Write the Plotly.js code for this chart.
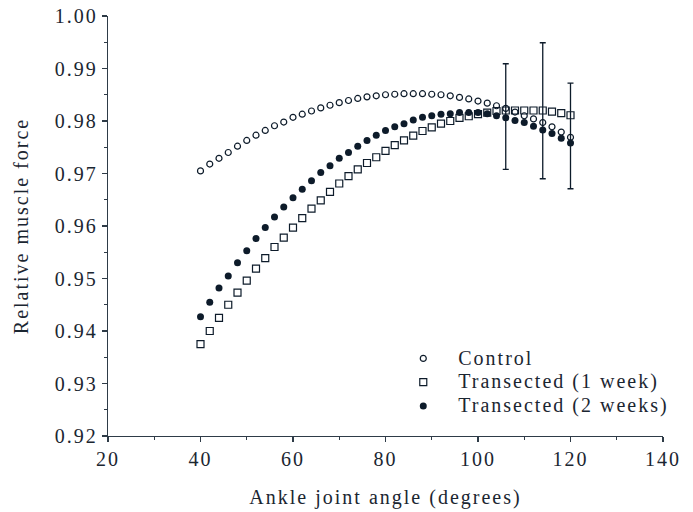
<!DOCTYPE html>
<html>
<head>
<meta charset="utf-8">
<script src="https://cdn.plot.ly/plotly-3.0.1.min.js"></script>
<style>
  html, body { margin: 0; padding: 0; background: #fff; }
  #chart { width: 693px; height: 512px; }
  text { letter-spacing: 2px; }
  .legendtext { font-size: 20px !important; }
</style>
</head>
<body>
<div id="chart"></div>
<script>
// Ankle joint angle (degrees), every 2 degrees from 40 to 120
const angles = [40,42,44,46,48,50,52,54,56,58,60,62,64,66,68,70,72,74,76,78,80,
                82,84,86,88,90,92,94,96,98,100,102,104,106,108,110,112,114,116,118,120];

const control = [0.9705,0.9718,0.9729,0.9740,0.9752,0.9763,0.9773,0.9782,0.9791,0.9798,
                 0.9807,0.9813,0.9819,0.9825,0.9830,0.9835,0.9839,0.9843,0.9846,0.9848,
                 0.9850,0.9851,0.9852,0.9852,0.9852,0.9851,0.9850,0.9848,0.9845,0.9842,
                 0.9838,0.9834,0.9829,0.9824,0.9817,0.9810,0.9804,0.9797,0.9789,0.9779,0.9769];

const transected1w = [0.9375,0.9400,0.9425,0.9450,0.9473,0.9496,0.9519,0.9539,0.9560,0.9578,
                      0.9597,0.9615,0.9633,0.9649,0.9665,0.9681,0.9695,0.9708,0.9720,0.9731,
                      0.9743,0.9754,0.9763,0.9772,0.9781,0.9788,0.9795,0.9800,0.9806,0.9809,
                      0.9813,0.9816,0.9819,0.9820,0.9820,0.9820,0.9820,0.9820,0.9818,0.9815,0.9811];

const transected2w = [0.9427,0.9455,0.9482,0.9505,0.9530,0.9553,0.9576,0.9597,0.9617,0.9636,
                      0.9654,0.9670,0.9686,0.9702,0.9715,0.9729,0.9740,0.9752,0.9763,0.9773,
                      0.9782,0.9789,0.9795,0.9802,0.9807,0.9810,0.9813,0.9814,0.9816,0.9816,
                      0.9816,0.9814,0.9810,0.9806,0.9801,0.9797,0.9790,0.9783,0.9776,0.9767,0.9758];

// Error bars (centre and half-length)
const errAngles = [106, 114, 120];
const errCentres = [0.98085, 0.98195, 0.97715];
const errHalf = [0.01005, 0.01295, 0.01005];

const seriesNames = ['Control', 'Transected (1 week)', 'Transected (2 weeks)'];

const ink = '#0d1b2a';
const axisInk = '#2e3b47';
const textInk = '#1b2631';
const fontFam = '"Liberation Serif", "Times New Roman", serif';

const traces = [
  {
    x: angles, y: control, name: seriesNames[0], type: 'scatter', mode: 'markers',
    marker: { symbol: 'circle-open', size: 6, color: ink, line: { width: 1.2, color: ink } }
  },
  {
    x: angles, y: transected1w, name: seriesNames[1], type: 'scatter', mode: 'markers',
    marker: { symbol: 'square-open', size: 7, color: ink, line: { width: 1.2, color: ink } }
  },
  {
    x: angles, y: transected2w, name: seriesNames[2], type: 'scatter', mode: 'markers',
    marker: { symbol: 'circle', size: 7, color: ink }
  },
  {
    x: errAngles, y: errCentres, type: 'scatter', mode: 'markers', showlegend: false,
    hoverinfo: 'skip',
    marker: { size: 1, opacity: 0, color: ink },
    error_y: { type: 'data', array: errHalf, visible: true, color: ink, thickness: 1.3, width: 3 }
  }
];

const layout = {
  width: 693, height: 512,
  margin: { l: 108, r: 30, t: 16, b: 76 },
  paper_bgcolor: '#ffffff', plot_bgcolor: '#ffffff',
  font: { family: fontFam, size: 20, color: textInk },
  showlegend: true,
  legend: {
    x: 0.505, xanchor: 'left', y: 0.225, yanchor: 'top',
    bgcolor: 'rgba(0,0,0,0)', borderwidth: 0,
    itemwidth: 60,
    font: { family: fontFam, size: 16, color: textInk },
    tracegroupgap: 0
  },
  xaxis: {
    range: [20, 140], dtick: 20, tick0: 20,
    showgrid: false, zeroline: false,
    showline: true, linecolor: axisInk, linewidth: 1.2,
    ticks: 'outside', ticklen: 5, tickwidth: 1.2, tickcolor: axisInk,
    minor: { dtick: 10, ticks: 'outside', ticklen: 3, tickwidth: 1, tickcolor: axisInk, showgrid: false },
    tickfont: { family: fontFam, size: 20, color: textInk },
    title: { text: 'Ankle joint angle (degrees)', font: { family: fontFam, size: 20, color: textInk }, standoff: 20 },
    automargin: false
  },
  yaxis: {
    range: [0.92, 1.00], dtick: 0.01, tick0: 0.92, tickformat: '.2f',
    showgrid: false, zeroline: false,
    showline: true, linecolor: axisInk, linewidth: 1.2,
    ticks: 'outside', ticklen: 5, tickwidth: 1.2, tickcolor: axisInk,
    minor: { dtick: 0.005, ticks: 'outside', ticklen: 3, tickwidth: 1, tickcolor: axisInk, showgrid: false },
    tickfont: { family: fontFam, size: 20, color: textInk },
    title: { text: 'Relative muscle force', font: { family: fontFam, size: 20, color: textInk }, standoff: 20 },
    automargin: false
  }
};

Plotly.newPlot('chart', traces, layout, { displayModeBar: false, staticPlot: true });
</script>
</body>
</html>
